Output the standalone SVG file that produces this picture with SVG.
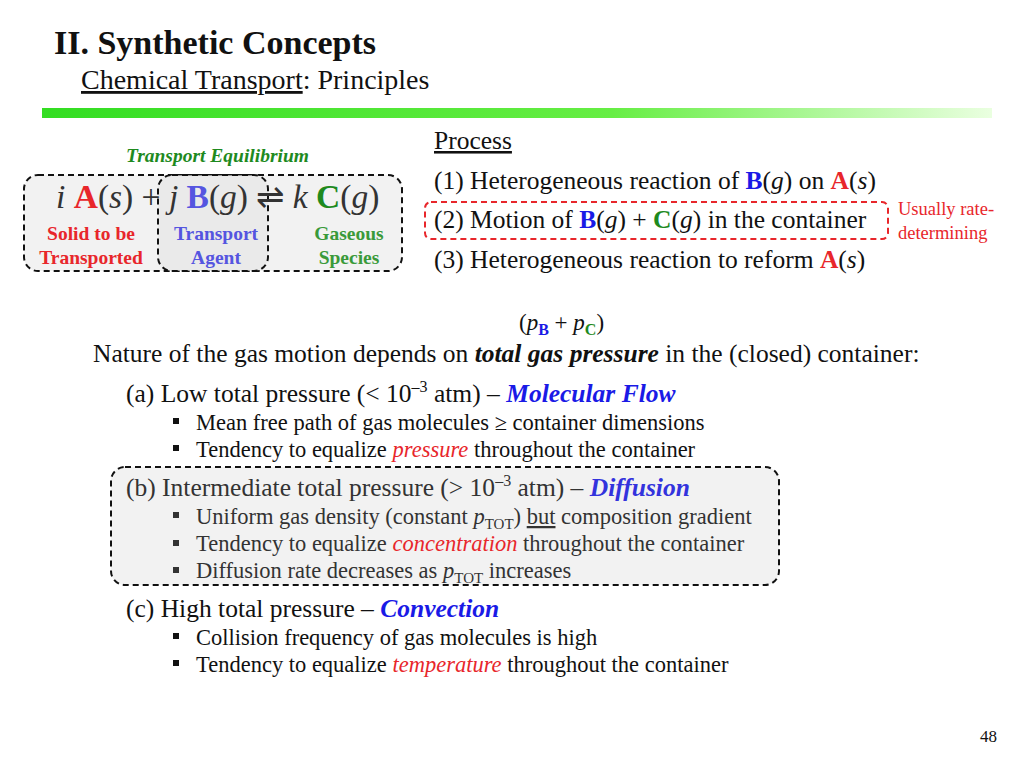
<svg xmlns="http://www.w3.org/2000/svg" width="1024" height="768" viewBox="0 0 1024 768" font-family="Liberation Serif, Times New Roman, serif">
<defs>
<linearGradient id="bar" x1="0" x2="1" y1="0" y2="0">
<stop offset="0" stop-color="#33dd22"/><stop offset="0.6" stop-color="#66ee44"/><stop offset="1" stop-color="#eaffe0"/>
</linearGradient>
</defs>
<style>
text{fill:#111}
.r{fill:#e8262b}.b{fill:#1a1ae6}.g{fill:#1e8a1e}.bl{fill:#5555e0}.gl{fill:#3a9a3a}
.bo{font-weight:bold}.it{font-style:italic}
.box{fill:#f2f2f2;stroke:#111;stroke-width:2;stroke-dasharray:6,4}
.red{fill:none;stroke:#e8262b;stroke-width:2;stroke-dasharray:6,4}
.bul{fill:#111}
</style>
<text x="54" y="54" font-size="34" class="bo">II. Synthetic Concepts</text>
<text x="81" y="89" font-size="28"><tspan text-decoration="underline">Chemical Transport</tspan>: Principles</text>
<rect x="42" y="108" width="950" height="10" fill="url(#bar)"/>

<g id="equation">
<rect x="24" y="175" width="378" height="96" rx="14" class="box"/>
<rect x="158" y="175" width="110" height="96" rx="14" fill="#e4e4e4" fill-opacity="0.6" stroke="#111" stroke-width="2" stroke-dasharray="6,4"/>
<text x="126" y="162" font-size="19.5" class="bo it g">Transport Equilibrium</text>
<text x="56" y="208" font-size="33.5" style="fill:#333"><tspan class="it">i</tspan> <tspan class="bo r">A</tspan>(<tspan class="it">s</tspan>) + <tspan class="it">j</tspan> <tspan class="bo bl">B</tspan>(<tspan class="it">g</tspan>) ⇌ <tspan class="it">k</tspan> <tspan class="bo g">C</tspan>(<tspan class="it">g</tspan>)</text>
<text x="91" y="240" font-size="19.5" class="bo r" text-anchor="middle">Solid to be</text>
<text x="91" y="264" font-size="19.5" class="bo r" text-anchor="middle">Transported</text>
<text x="216" y="240" font-size="19.5" class="bo bl" text-anchor="middle">Transport</text>
<text x="216" y="264" font-size="19.5" class="bo bl" text-anchor="middle">Agent</text>
<text x="349" y="240" font-size="19.5" class="bo gl" text-anchor="middle">Gaseous</text>
<text x="349" y="264" font-size="19.5" class="bo gl" text-anchor="middle">Species</text>
</g>

<g id="process">
<text x="434" y="149" font-size="25.5" text-decoration="underline">Process</text>
<text x="434" y="189" font-size="25.5">(1) Heterogeneous reaction of <tspan class="bo b">B</tspan>(<tspan class="it">g</tspan>) on <tspan class="bo r">A</tspan>(<tspan class="it">s</tspan>)</text>
<rect x="425" y="202" width="463" height="37" rx="6" class="red"/>
<text x="434" y="228" font-size="25.5">(2) Motion of <tspan class="bo b">B</tspan>(<tspan class="it">g</tspan>) + <tspan class="bo g">C</tspan>(<tspan class="it">g</tspan>) in the container</text>
<text x="434" y="268" font-size="25.5">(3) Heterogeneous reaction to reform <tspan class="bo r">A</tspan>(<tspan class="it">s</tspan>)</text>
<text x="898" y="215" font-size="18.5" class="r">Usually rate-</text>
<text x="898" y="239" font-size="18.5" class="r">determining</text>
</g>

<g id="nature">
<text x="519" y="330" font-size="23">(<tspan class="it">p</tspan><tspan class="bo b" font-size="16" dy="5">B</tspan><tspan dy="-5"> + </tspan><tspan class="it">p</tspan><tspan class="bo g" font-size="16" dy="5">C</tspan><tspan dy="-5">)</tspan></text>
<text x="93" y="362" font-size="25.5">Nature of the gas motion depends on <tspan class="bo it">total gas pressure</tspan> in the (closed) container:</text>
</g>

<g id="a">
<text x="126" y="402" font-size="25.5">(a)  Low total pressure (&lt; 10<tspan font-size="16" dy="-10">–3</tspan><tspan dy="10"> atm) – </tspan><tspan class="bo it b">Molecular Flow</tspan></text>
<rect x="173" y="418" width="6" height="6" class="bul"/>
<text x="196" y="430" font-size="22.5">Mean free path of gas molecules ≥ container dimensions</text>
<rect x="173" y="445" width="6" height="6" class="bul"/>
<text x="196" y="457" font-size="22.5">Tendency to equalize <tspan class="it r">pressure</tspan> throughout the container</text>
</g>

<g id="b">
<rect x="111" y="467" width="668" height="118" rx="14" class="box"/>
<text x="126" y="496" font-size="25.5" style="fill:#333">(b)  Intermediate total pressure (&gt; 10<tspan font-size="16" dy="-10">–3</tspan><tspan dy="10"> atm) – </tspan><tspan class="bo it" style="fill:#3333dd">Diffusion</tspan></text>
<rect x="173" y="512" width="6" height="6" fill="#333"/>
<text x="196" y="524" font-size="22.5" style="fill:#333">Uniform gas density (constant <tspan class="it">p</tspan><tspan font-size="15" dy="5">TOT</tspan><tspan dy="-5">) </tspan><tspan text-decoration="underline">but</tspan> composition gradient</text>
<rect x="173" y="540" width="6" height="6" fill="#333"/>
<text x="196" y="551" font-size="22.5" style="fill:#333">Tendency to equalize <tspan class="it r">concentration</tspan> throughout the container</text>
<rect x="173" y="567" width="6" height="6" fill="#333"/>
<text x="196" y="578" font-size="22.5" style="fill:#333">Diffusion rate decreases as <tspan class="it">p</tspan><tspan font-size="15" dy="5">TOT</tspan><tspan dy="-5"> increases</tspan></text>
</g>

<g id="c">
<text x="126" y="617" font-size="25.5">(c)  High total pressure – <tspan class="bo it b">Convection</tspan></text>
<rect x="173" y="633" width="6" height="6" class="bul"/>
<text x="196" y="645" font-size="22.5">Collision frequency of gas molecules is high</text>
<rect x="173" y="660" width="6" height="6" class="bul"/>
<text x="196" y="672" font-size="22.5">Tendency to equalize <tspan class="it r">temperature</tspan> throughout the container</text>
</g>
<text x="997" y="742" font-size="17" text-anchor="end">48</text>
</svg>
